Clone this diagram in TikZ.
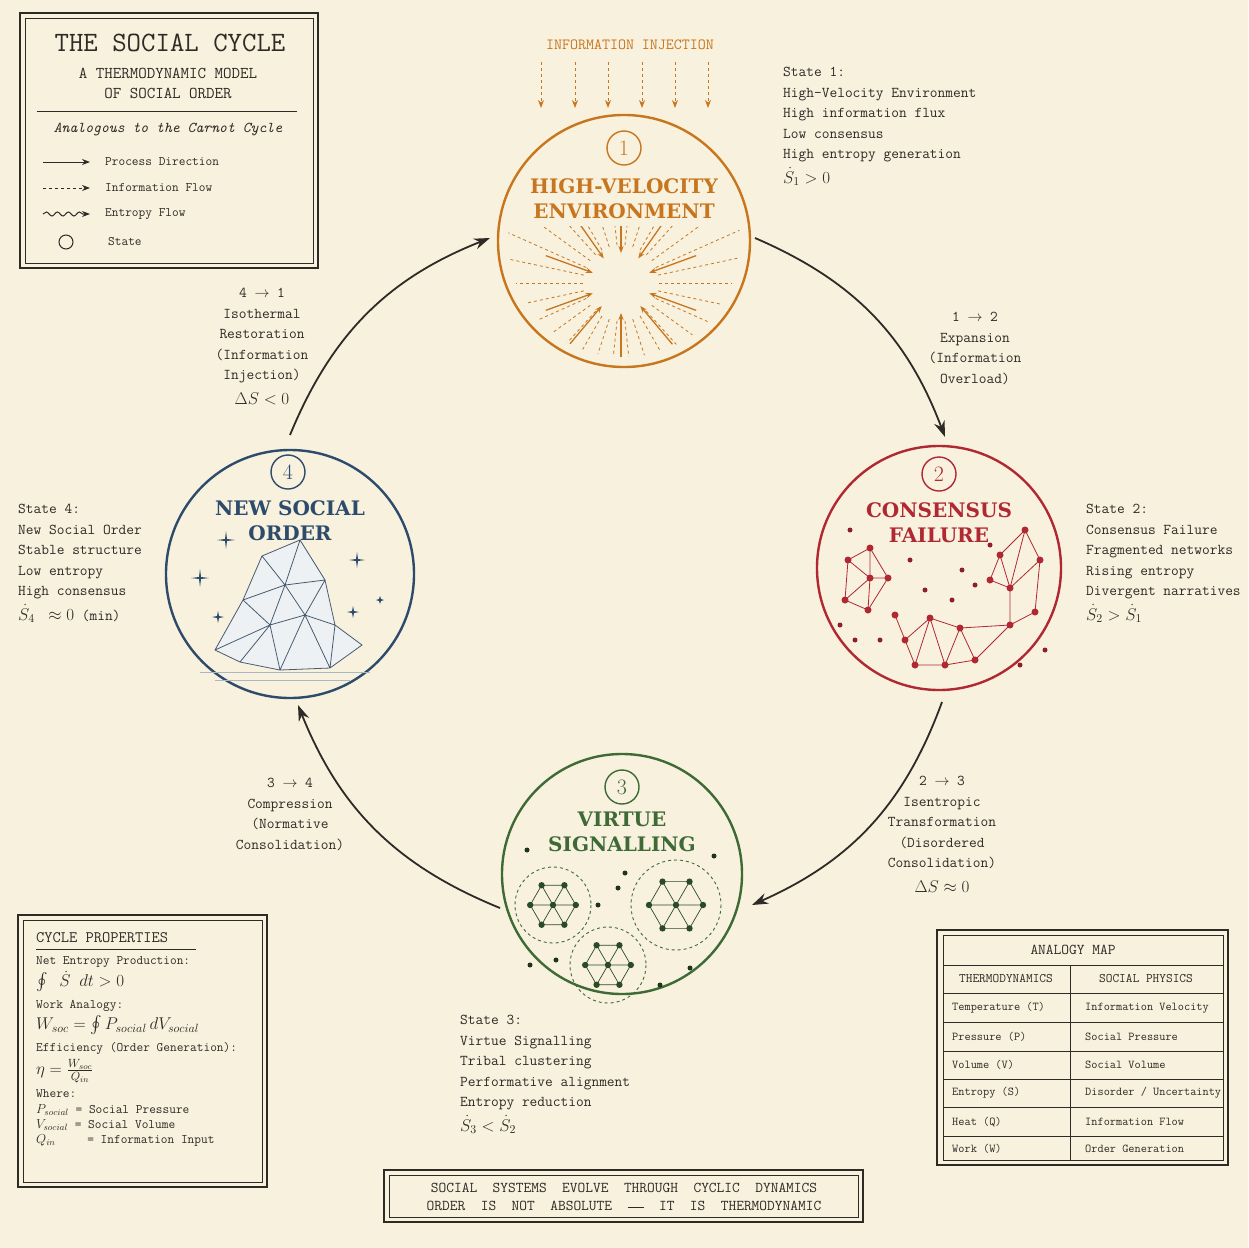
\RequirePackage{fix-cm}
\documentclass[tikz,border=0pt]{standalone}
\usepackage{amsmath}
\usepackage{fontspec}
\usepackage{tikz}
\usetikzlibrary{arrows.meta,decorations.pathmorphing,calc}
\newfontfamily\mono{Latin Modern Mono}
\newfontfamily\slab{DejaVu Serif}
\definecolor{paper}{HTML}{F8F1DE}
\definecolor{ink}{HTML}{2E2A25}
\definecolor{cyorange}{HTML}{C8761E}
\definecolor{cyred}{HTML}{B02832}
\definecolor{cygreen}{HTML}{3E6A36}
\definecolor{cyblue}{HTML}{2D4B6B}
\newcommand{\eqbig}[1]{{\fontsize{17}{20}\selectfont$#1$}}
\tikzset{
  txt/.style={font=\fontsize{15}{20.5}\selectfont\mono, text=ink, inner sep=0pt},
  small/.style={font=\fontsize{13}{18}\selectfont\mono, text=ink, inner sep=0pt},
  title/.style={font=\fontsize{20}{25}\selectfont\slab\bfseries, align=center, inner sep=0pt},
  proc/.style={draw=ink, line width=1.8pt, -{Stealth[length=16pt,width=11pt]}},
  num/.style={circle, draw, line width=1.4pt, minimum size=34pt, inner sep=0pt, font=\fontsize{22}{22}\selectfont},
  frame/.style={draw=ink, line width=1.3pt},
}
\begin{document}
\begin{tikzpicture}[x=1pt,y=-1pt]
\fill[paper] (0,0) rectangle (1248,1248);
\useasboundingbox (0,0) rectangle (1248,1248);

% legend box
\draw[frame] (20,13) rectangle (318,268);
\draw[ink, line width=0.6pt] (25,18) rectangle (313,263);
\node[font=\fontsize{28}{28}\selectfont\mono, text=ink] (ttl) at (170,43) {THE SOCIAL CYCLE};
\node[txt, font=\fontsize{16.5}{20}\selectfont\mono, align=center] (sub) at (168,83) {A THERMODYNAMIC MODEL\\OF SOCIAL ORDER};
\draw[ink, line width=0.7pt] (37,111) -- (297,111);
\node[txt, font=\fontsize{15}{16}\selectfont\mono\itshape] (carnot) at (168,130) {Analogous to the Carnot Cycle};
\coordinate (l1a) at (43,162); \coordinate (l1b) at (90,162);
\coordinate (l2a) at (43,188); \coordinate (l2b) at (90,188);
\coordinate (l3a) at (43,214); \coordinate (l3b) at (90,214);
\draw[ink, line width=1pt, -{Stealth[length=8pt]}] (l1a) -- (l1b);
\draw[ink, line width=1pt, dashed, -{Stealth[length=8pt]}] (l2a) -- (l2b);
\draw[ink, line width=1pt, decorate, decoration={snake, amplitude=2pt, segment length=11pt, post length=6pt}, -{Stealth[length=8pt]}] (l3a) -- (l3b);
\node[circle, draw=ink, line width=1pt, minimum size=14pt, inner sep=0pt] (lc) at (66,242) {};
\node[small, anchor=west] (lt1) at (105,162) {Process Direction};
\node[small, anchor=west] (lt2) at (105,188) {Information Flow};
\node[small, anchor=west] (lt3) at (105,214) {Entropy Flow};
\node[small, anchor=west] (lt4) at (108,242) {State};

% information injection
\node[txt, text=cyorange, font=\fontsize{15.5}{16}\selectfont\mono] (inj) at (630,45) {INFORMATION INJECTION};
\foreach \x in {541,575,608,642,675,708}{
  \draw[cyorange, line width=1pt, dashed, -{Stealth[length=8pt]}] (\x,62) -- (\x,108);
}

% state circles
\node[circle, draw=cyorange, line width=2.4pt, minimum size=252pt] (s1) at (624,241) {};
\node[circle, draw=cyred, line width=2.4pt, minimum size=244pt] (s2) at (939,568) {};
\node[circle, draw=cygreen, line width=2.4pt, minimum size=240pt] (s3) at (622,874) {};
\node[circle, draw=cyblue, line width=2.4pt, minimum size=248pt] (s4) at (290,574) {};

% circle 1 burst
\begin{scope}
\clip (624,241) circle (116);
\clip (490,226) rectangle (760,380);
\foreach \a in {0,12,...,348}{
  \draw[cyorange, line width=0.8pt, dashed] ($(621,283)+(\a:38)$) -- ($(621,283)+(\a:130)$);
}
\foreach \a in {20,50,90,130,160,200,235,270,305,340}{
  \draw[cyorange, line width=1.3pt, -{Stealth[length=7pt]}] ($(621,283)+(\a:80)$) -- ($(621,283)+(\a:30)$);
}
\end{scope}
\node[num, draw=cyorange, text=cyorange] (n1) at (624,148) {1};
\node[title, text=cyorange] (t1) at (624,199) {HIGH-VELOCITY\\ENVIRONMENT};

% circle 2 networks
\node[num, draw=cyred, text=cyred] (n2) at (939,474) {2};
\node[title, text=cyred] (t2) at (939,523) {CONSENSUS\\FAILURE};
\draw[cyred, line width=0.8pt]
  (848,560)--(870,548)--(888,578)--(868,610)--(845,600)--(848,560)
  (870,548)--(870,578)--(868,610) (848,560)--(870,578)--(888,578) (845,600)--(870,578)
  (990,580)--(1000,555)--(1025,530)--(1040,560)--(1010,588)--(990,580)
  (1000,555)--(1010,588) (1025,530)--(1010,588) (1040,560)--(1035,612)
  (895,615)--(905,640)--(930,618)--(960,628)--(975,660)--(945,665)--(915,665)--(905,640)
  (930,618)--(945,665) (960,628)--(945,665) (930,618)--(915,665)
  (960,628)--(1010,625)--(975,660) (1010,625)--(1035,612) (1010,625)--(1010,588);
\foreach \p in {(848,560),(870,548),(888,578),(868,610),(845,600),(870,578),(1000,555),(1025,530),(1040,560),(1010,588),(990,580),(905,640),(930,618),(960,628),(975,660),(945,665),(915,665),(895,615),(1010,625),(1035,612)}{
  \fill[cyred] \p circle (3.5);
}
\foreach \p in {(850,530),(910,560),(925,590),(962,570),(975,585),(952,600),(880,640),(855,640),(1045,650),(1020,665),(990,545),(840,625)}{
  \fill[cyred!80!black] \p circle (2.5);
}

% circle 3 clusters
\node[num, draw=cygreen, text=cygreen] (n3) at (622,787) {3};
\node[title, text=cygreen] (t3) at (622,832) {VIRTUE\\SIGNALLING};
\foreach \cx/\cy/\r in {553/905/38,676/905/45,608/965/38}{
  \draw[cygreen, line width=0.9pt, dashed] (\cx,\cy) circle (\r);
  \foreach \a in {0,60,...,300}{
    \draw[cygreen!70!black, line width=0.7pt] (\cx,\cy) -- ++(\a:0.6*\r) -- ($(\cx,\cy)+(\a+60:0.6*\r)$);
    \fill[cygreen!70!black] ($(\cx,\cy)+(\a:0.6*\r)$) circle (3.2);
  }
  \fill[cygreen!70!black] (\cx,\cy) circle (3.2);
}
\foreach \p in {(527,850),(714,856),(618,888),(625,873),(598,905),(530,965),(556,960),(690,968),(660,985)}{
  \fill[cygreen!50!black] \p circle (2.5);
}

% circle 4 crystal
\node[num, draw=cyblue, text=cyblue] (n4) at (288,472) {4};
\node[title, text=cyblue] (t4) at (290,521) {NEW SOCIAL\\ORDER};
\fill[cyblue!8] (215,650) -- (243,600) -- (262,556) -- (300,540) -- (325,580) -- (335,625) -- (362,645) -- (330,668) -- (280,670) -- (240,662) -- cycle;
\draw[cyblue!70!gray, line width=0.8pt]
  (215,650) -- (243,600) -- (262,556) -- (300,540) -- (325,580) -- (335,625) -- (362,645) -- (330,668) -- (280,670) -- (240,662) -- cycle
  (262,556) -- (285,585) -- (300,540) (285,585) -- (325,580) (285,585) -- (243,600)
  (243,600) -- (270,625) -- (285,585) (270,625) -- (305,615) -- (285,585) (305,615) -- (325,580)
  (305,615) -- (335,625) (270,625) -- (240,662) (270,625) -- (280,670) (305,615) -- (280,670)
  (305,615) -- (330,668) (335,625) -- (330,668) (215,650) -- (270,625);
\draw[cyblue!40, line width=0.5pt] (200,672) -- (370,672) (215,680) -- (350,680);
\foreach \sx/\sy/\ss in {226/540/9,200/578/9,357/560/8,353/612/6,218/617/6,380/600/4}{
  \fill[cyblue] (\sx-\ss,\sy) -- (\sx-1,\sy-1) -- (\sx,\sy-\ss) -- (\sx+1,\sy-1) -- (\sx+\ss,\sy) -- (\sx+1,\sy+1) -- (\sx,\sy+\ss) -- (\sx-1,\sy+1) -- cycle;
}

% process arrows
\coordinate (a1s) at (755,238); \coordinate (a1e) at (945,437);
\coordinate (a2s) at (942,702); \coordinate (a2e) at (752,905);
\coordinate (a3s) at (500,908); \coordinate (a3e) at (298,705);
\coordinate (a4s) at (290,435); \coordinate (a4e) at (490,238);
\draw[proc] (a1s) to[bend left=23] (a1e);
\draw[proc] (a2s) to[bend left=23] (a2e);
\draw[proc] (a3s) to[bend left=23] (a3e);
\draw[proc] (a4s) to[bend left=23] (a4e);

% state texts
\node[txt, anchor=north west, align=left] (st1) at (783,67) {State 1:\\High-Velocity Environment\\High information flux\\Low consensus\\High entropy generation\\[4pt]\eqbig{\dot S_1 > 0}};
\node[txt, anchor=north west, align=left] (st2) at (1086,504) {State 2:\\Consensus Failure\\Fragmented networks\\Rising entropy\\Divergent narratives\\[4pt]\eqbig{\dot S_2 > \dot S_1}};
\node[txt, anchor=north west, align=left] (st3) at (460,1015) {State 3:\\Virtue Signalling\\Tribal clustering\\Performative alignment\\Entropy reduction\\[4pt]\eqbig{\dot S_3 < \dot S_2}};
\node[txt, anchor=north west, align=left] (st4) at (18,504) {State 4:\\New Social Order\\Stable structure\\Low entropy\\High consensus\\[4pt]\eqbig{\dot S_4\ \approx 0} (min)};

% transition labels
\node[txt, align=center, anchor=north] (tr12) at (975,312) {1 $\rightarrow$ 2\\Expansion\\(Information\\Overload)};
\node[txt, align=center, anchor=north] (tr23) at (942,776) {2 $\rightarrow$ 3\\Isentropic\\Transformation\\(Disordered\\Consolidation)\\[4pt]\eqbig{\Delta S \approx 0}};
\node[txt, align=center, anchor=north] (tr34) at (290,778) {3 $\rightarrow$ 4\\Compression\\(Normative\\Consolidation)};
\node[txt, align=center, anchor=north] (tr41) at (262,288) {4 $\rightarrow$ 1\\Isothermal\\Restoration\\(Information\\Injection)\\[4pt]\eqbig{\Delta S < 0}};

% cycle properties
\draw[frame] (18,915) rectangle (267,1187);
\draw[ink, line width=0.6pt] (23,920) rectangle (262,1182);
\node[txt, font=\fontsize{16}{16}\selectfont\mono, anchor=west] (cp) at (36,938) {CYCLE PROPERTIES};
\draw[ink, line width=0.7pt] (36,949) -- (196,949);
\node[small, anchor=north west, align=left] (cpt) at (36,956) {Net Entropy Production:\\[3pt]
\eqbig{\oint\ \dot S\ dt > 0}\\[4pt]
Work Analogy:\\[3pt]
\eqbig{W_{soc} = \oint P_{social}\, dV_{social}}\\[4pt]
Efficiency (Order Generation):\\[4pt]
\eqbig{\eta = \frac{W_{soc}}{Q_{in}}}\\[5pt]
Where:\\[-2pt]
$P_{social}$ = Social Pressure\\[-3pt]
$V_{social}$ = Social Volume\\[-3pt]
$Q_{in}$\hspace{25pt} = Information Input};

% analogy map
\draw[frame] (937,930) rectangle (1228,1165);
\draw[ink, line width=0.6pt] (943,935) rectangle (1223,1160);
\node[txt, font=\fontsize{15}{16}\selectfont\mono] (am) at (1073,950) {ANALOGY MAP};
\draw[ink, line width=0.6pt] (943,965) -- (1223,965) (943,993) -- (1223,993);
\draw[ink, line width=0.6pt] (1070,965) -- (1070,1160);
\foreach \y in {1022,1051,1079,1107,1136}{ \draw[ink, line width=0.5pt] (943,\y) -- (1223,\y); }
\node[small] (h1) at (1006,979) {THERMODYNAMICS};
\node[small] (h2) at (1146,979) {SOCIAL PHYSICS};
\foreach \y/\l/\r in {1008/Temperature (T)/Information Velocity,1037/Pressure (P)/Social Pressure,1065/Volume (V)/Social Volume,1093/Entropy (S)/{Disorder / Uncertainty},1122/Heat (Q)/Information Flow,1149/Work (W)/Order Generation}{
  \node[small, font=\fontsize{12}{14}\selectfont\mono, anchor=west] at (952,\y) {\l};
  \node[small, font=\fontsize{12}{14}\selectfont\mono, anchor=west] at (1085,\y) {\r};
}

% banner
\draw[frame] (384,1170) rectangle (863,1222);
\draw[ink, line width=0.6pt] (389,1175) rectangle (858,1217);
\node[txt, font=\fontsize{15}{18}\selectfont\mono, align=center] (ban) at (624,1197) {SOCIAL\ \ SYSTEMS\ \ EVOLVE\ \ THROUGH\ \ CYCLIC\ \ DYNAMICS\\ORDER\ \ IS\ \ NOT\ \ ABSOLUTE\ \ \rule[3pt]{16pt}{0.8pt}\ \ IT\ \ IS\ \ THERMODYNAMIC};
\end{tikzpicture}
\end{document}
